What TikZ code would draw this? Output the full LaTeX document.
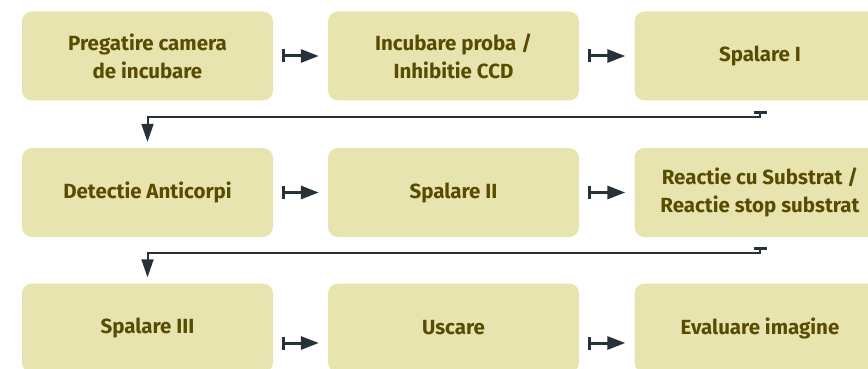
\documentclass[tikz,border=0pt]{standalone}
\usepackage{fontspec}
\setmainfont{Fira Sans}
\usetikzlibrary{arrows.meta,positioning}
\definecolor{boxfill}{HTML}{E8E4B0}
\definecolor{boxtext}{HTML}{584C00}
\definecolor{arrowcol}{HTML}{263238}
\tikzset{
  stepbox/.style={fill=boxfill, text=boxtext, rounded corners=10pt,
    minimum width=251pt, minimum height=89pt, align=center,
    font=\fontsize{20.5}{28}\selectfont\bfseries},
  flow/.style={draw=arrowcol, line width=3pt,
    {Bar[width=13pt]}-{Triangle[length=18pt,width=13pt]},
    shorten <=9pt, shorten >=9pt},
  turn/.style={draw=arrowcol, line width=2pt,
    {Bar[width=13pt,line width=3pt]}-{Triangle[length=18pt,width=12pt]},
    shorten <=10pt, shorten >=6pt}
}
\begin{document}
\begin{tikzpicture}[x=1pt,y=-1pt]
    \clip (0,0) rectangle (868,369);
    % first row
    \node[stepbox] (prep) at (147.5,56) {Pregatire camera\\de incubare};
    \node[stepbox] (incub) at (453.5,56) {Incubare proba /\\Inhibitie CCD};
    \node[stepbox] (spal1) at (760,56) {Spalare I};
    % second row
    \node[stepbox] (detect) at (147.5,192.5) {Detectie Anticorpi};
    \node[stepbox] (spal2) at (453.5,192.5) {Spalare II};
    \node[stepbox] (react) at (760,192.5) {Reactie cu Substrat /\\Reactie stop substrat};
    % third row
    \node[stepbox] (spal3) at (147.5,328) {Spalare III};
    \node[stepbox] (uscare) at (453.5,328) {Uscare};
    \node[stepbox] (eval) at (760,328) {Evaluare imagine};

    \draw[flow] (prep) -- (incub);
    \draw[flow] (incub) -- (spal1);
    \draw[turn] (spal1.south) -- ++(0,16) -| (detect.north);
    \draw[flow] (detect) -- (spal2);
    \draw[flow] (spal2) -- (react);
    \draw[turn] (react.south) -- ++(0,16) -| (spal3.north);
    \draw[flow] ([yshift=-15pt]spal3.east) -- ([yshift=-15pt]uscare.west);
    \draw[flow] ([yshift=-15pt]uscare.east) -- ([yshift=-15pt]eval.west);
\end{tikzpicture}
\end{document}
